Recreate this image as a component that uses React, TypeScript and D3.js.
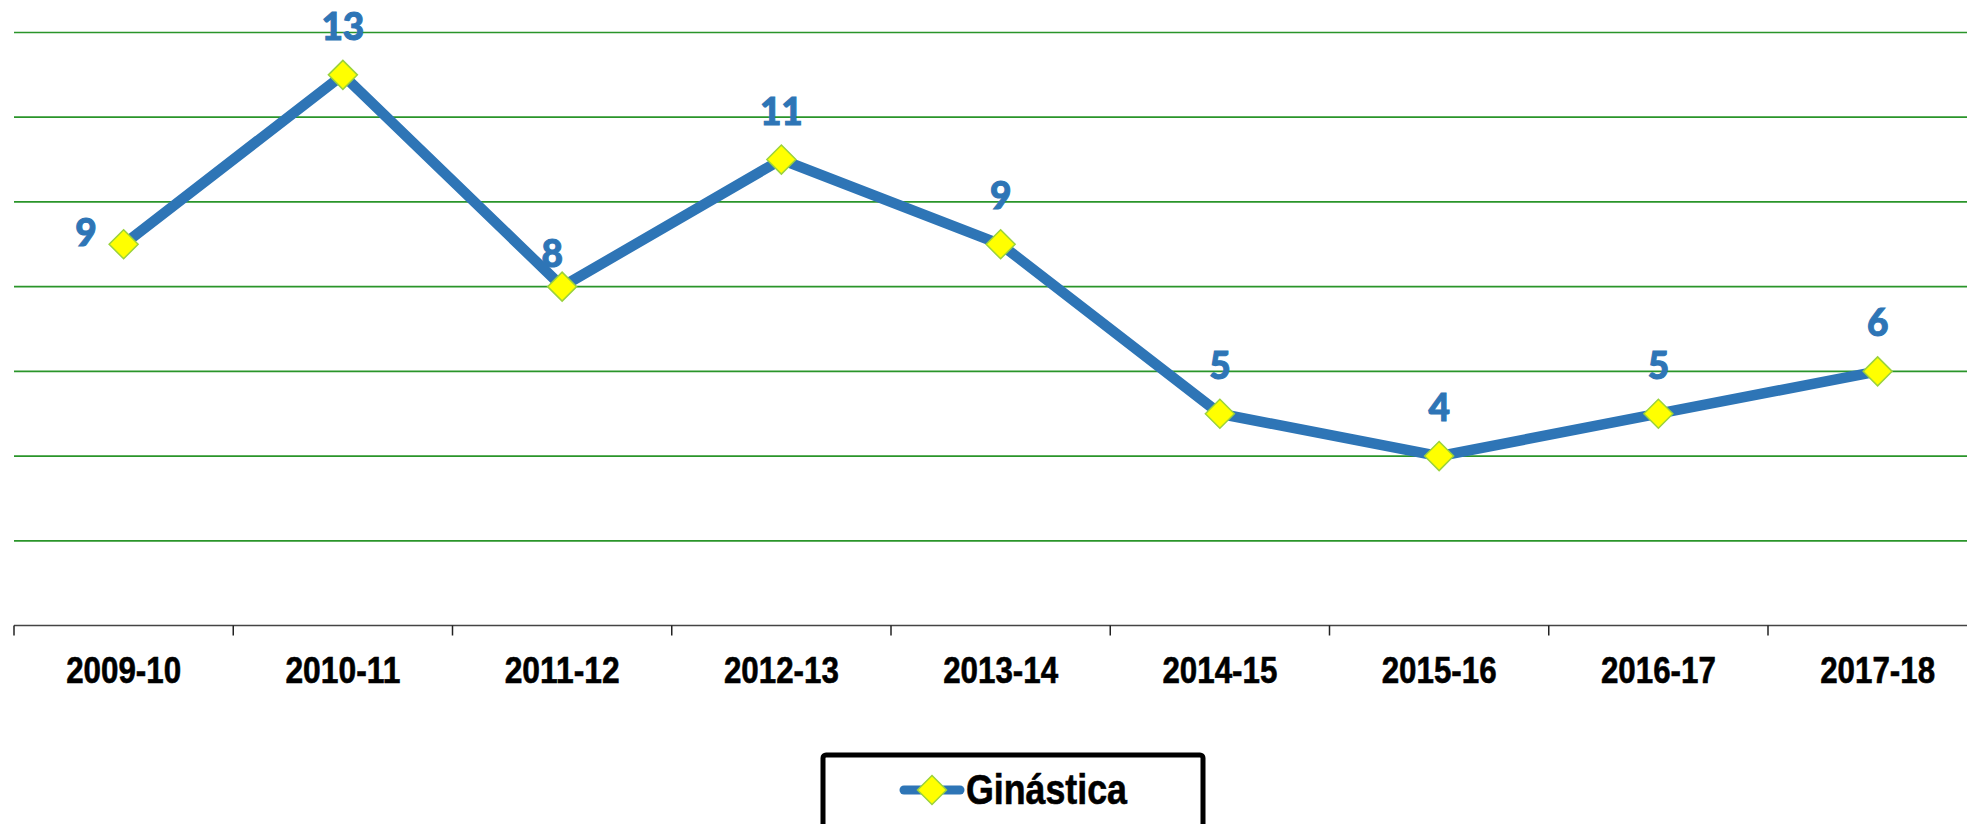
import React from "react";
import * as d3 from "d3";

const seasons = [
  "2009-10",
  "2010-11",
  "2011-12",
  "2012-13",
  "2013-14",
  "2014-15",
  "2015-16",
  "2016-17",
  "2017-18",
];
const ginastica = [9, 13, 8, 11, 9, 5, 4, 5, 6];
const gridValues = [2, 4, 6, 8, 10, 12, 14];
const seriesName = "Ginástica";

const W = 1967;
const H = 824;
const left = 14;
const axisY = 625.5;
const top = 32.5;
const bandW = 219.25;

const blue = "#2E75B6";
const green = "#2A952A";

const Diamond = ({ cx, cy, r }: { cx: number; cy: number; r: number }) => (
  <path
    d={`M${cx},${cy - r}L${cx + r},${cy}L${cx},${cy + r}L${cx - r},${cy}Z`}
    fill="#FFFF00"
    stroke="#9BD23C"
    strokeWidth={1.5}
  />
);

const App = () => {
  const x = d3
    .scaleBand()
    .domain(seasons)
    .range([left, left + bandW * seasons.length]);
  const y = d3.scaleLinear().domain([0, 14]).range([axisY, top]);
  const cx = (s: string) => (x(s) as number) + x.bandwidth() / 2;

  const line = d3
    .line<number>()
    .x((_, i) => cx(seasons[i]))
    .y((d) => y(d));

  // Excel-like label placement: first label sits left, "8" is nudged
  const labelPos = (i: number, px: number, py: number) => {
    if (i === 0) return { x: px - 27, y: py + 2, anchor: "end" };
    if (i === 2) return { x: px - 10, y: py - 20, anchor: "middle" };
    return { x: px, y: py - 35, anchor: "middle" };
  };

  return (
    <svg
      width={W}
      height={H}
      style={{ position: "absolute", left: 0, top: 0, background: "#fff" }}
    >
      {gridValues.map((v) => (
        <line
          key={v}
          x1={left}
          x2={W}
          y1={y(v)}
          y2={y(v)}
          stroke={green}
          strokeWidth={1.7}
        />
      ))}
      <line x1={left} x2={W} y1={axisY} y2={axisY} stroke="#444" strokeWidth={1.5} />
      {d3.range(seasons.length + 1).map((i) => (
        <line
          key={i}
          x1={left + i * x.bandwidth()}
          x2={left + i * x.bandwidth()}
          y1={axisY}
          y2={axisY + 10}
          stroke="#222"
          strokeWidth={1.5}
        />
      ))}
      {seasons.map((s) => (
        <text
          key={s}
          x={cx(s)}
          y={683}
          textAnchor="middle"
          fontFamily="'Liberation Sans', Arial, sans-serif"
          fontWeight="bold"
          fontSize={37}
          textLength={115}
          lengthAdjust="spacingAndGlyphs"
          fill="#000"
          stroke="#000"
          strokeWidth={0.6}
        >
          {s}
        </text>
      ))}
      <path
        d={line(ginastica) as string}
        fill="none"
        stroke={blue}
        strokeWidth={10.5}
        strokeLinejoin="miter"
      />
      {ginastica.map((v, i) => (
        <Diamond key={i} cx={cx(seasons[i])} cy={y(v)} r={14.5} />
      ))}
      {ginastica.map((v, i) => {
        const p = labelPos(i, cx(seasons[i]), y(v));
        return (
          <text
            key={i}
            x={p.x}
            y={p.y}
            textAnchor={p.anchor as any}
            fontFamily="Lato, 'DejaVu Sans', sans-serif"
            fontWeight={900}
            fontSize={37}
            fill={blue}
            stroke={blue}
            strokeWidth={1}
          >
            {v}
          </text>
        );
      })}
      <g>
        <rect
          x={823}
          y={755}
          width={380}
          height={100}
          rx={3}
          fill="#fff"
          stroke="#000"
          strokeWidth={5}
        />
        <line
          x1={904}
          x2={960}
          y1={790}
          y2={790}
          stroke={blue}
          strokeWidth={9}
          strokeLinecap="round"
        />
        <Diamond cx={932} cy={790} r={14.5} />
        <text
          x={966}
          y={804}
          fontFamily="'Liberation Sans', Arial, sans-serif"
          fontWeight="bold"
          fontSize={43}
          textLength={161}
          lengthAdjust="spacingAndGlyphs"
          fill="#000"
          stroke="#000"
          strokeWidth={0.6}
        >
          {seriesName}
        </text>
      </g>
    </svg>
  );
};

export default App;
